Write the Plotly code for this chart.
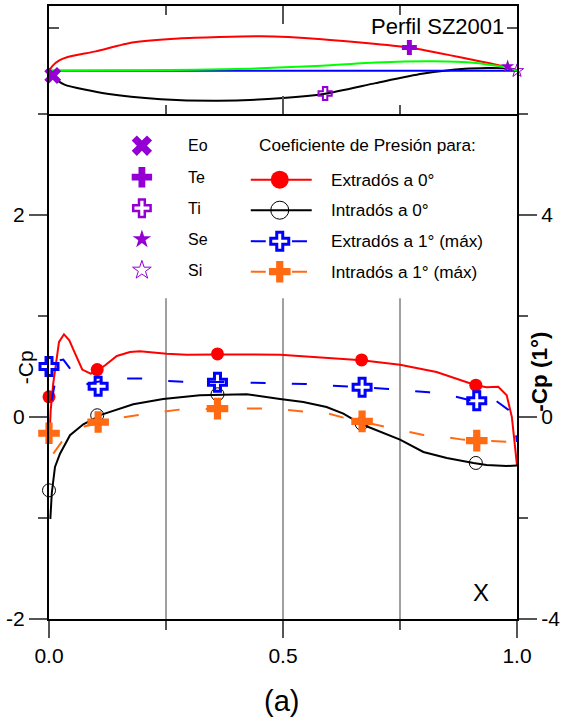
import plotly.graph_objects as go

# perfil (panel superior)
x_ext = [0, 0.008, 0.022, 0.04, 0.1, 0.178, 0.277, 0.453, 0.583, 0.77, 0.889, 0.98, 1.0]
y_ext = [0, 0.012, 0.024, 0.032, 0.045, 0.0655, 0.075, 0.08, 0.0733, 0.054, 0.029, 0.008, 0.0]
x_int = [0, 0.008, 0.033, 0.124, 0.239, 0.362, 0.5, 0.59, 0.698, 0.797, 0.889, 0.98, 1.0]
y_int = [0, -0.014, -0.032, -0.053, -0.0656, -0.0695, -0.063, -0.053, -0.0285, -0.007, 0.0046, 0.006, 0.0]
x_cam = [0, 0.2, 0.43, 0.583, 0.698, 0.82, 0.912, 0.98, 1.0]
y_cam = [0, 0.001, 0.005, 0.0116, 0.019, 0.022, 0.018, 0.007, 0.0]
x_cuerda = [0, 1]
y_cuerda = [0, 0]

# puntos del perfil
x_eo, y_eo = [0.008], [-0.011]
x_te, y_te = [0.77], [0.054]
x_ti, y_ti = [0.59], [-0.0525]
x_se, y_se = [0.98], [0.01]
x_si, y_si = [1.0], [0.0]

# Cp a 0 grados
x_red = [0.002, 0.0036, 0.009, 0.016, 0.0214, 0.032, 0.0434, 0.0556, 0.071, 0.089, 0.104, 0.12, 0.145, 0.173, 0.194,
         0.2515, 0.294, 0.36, 0.437, 0.494, 0.668, 0.75, 0.828, 0.878, 0.912, 0.935, 0.96, 0.978, 0.989, 1.0]
y_red = [-0.1, 0.066, 0.33, 0.561, 0.743, 0.819, 0.76, 0.63, 0.47, 0.43, 0.462, 0.512, 0.604, 0.643, 0.65,
         0.627, 0.617, 0.62, 0.617, 0.617, 0.561, 0.518, 0.446, 0.363, 0.314, 0.294, 0.30, 0.215, 0.0, -0.478]
x_blk = [0.001, 0.003, 0.006, 0.0128, 0.0235, 0.0449, 0.0733, 0.1126, 0.18, 0.244, 0.3226, 0.4224, 0.4936, 0.5434,
         0.593, 0.629, 0.668, 0.707, 0.75, 0.8, 0.85, 0.907, 0.935, 0.978, 1.0]
y_blk = [-1.0, -1.0, -0.75, -0.495, -0.363, -0.18, -0.072, 0.024, 0.126, 0.178, 0.215, 0.225, 0.178, 0.149,
         0.099, 0.033, -0.072, -0.148, -0.224, -0.346, -0.406, -0.455, -0.475, -0.485, -0.48]

# Cp a 1 grado, eje derecho
x_blu = [0.0057, 0.0113, 0.022, 0.0306, 0.0434, 0.066, 0.104, 0.166, 0.198, 0.2535, 0.2857, 0.36, 0.43, 0.4615,
         0.517, 0.549, 0.605, 0.636, 0.693, 0.725, 0.78, 0.812, 0.869, 0.90, 0.956, 0.981, 0.998, 1.0]
y_blu = [0.33, 0.594, 1.122, 1.136, 0.978, 0.62, 0.70, 0.76, 0.76, 0.712, 0.70, 0.694, 0.68, 0.68,
         0.668, 0.654, 0.62, 0.608, 0.574, 0.554, 0.514, 0.49, 0.404, 0.33, 0.316, 0.146, -0.36, -0.494]
x_ora = [0.0092, 0.027, 0.077, 0.159, 0.191, 0.246, 0.278, 0.36, 0.4224, 0.4545, 0.509, 0.541, 0.598, 0.629,
         0.686, 0.714, 0.769, 0.80, 0.854, 0.884, 0.944, 0.976, 1.0]
y_ora = [-0.726, -0.494, -0.184, -0.006, 0.04, 0.112, 0.146, 0.166, 0.172, 0.166, 0.138, 0.112, 0.066, -0.012,
         -0.124, -0.184, -0.284, -0.356, -0.408, -0.448, -0.476, -0.488, -0.5]

# marcadores medidos
x_pts = [0.0, 0.103, 0.36, 0.668, 0.912]
red_pts = [0.2, 0.47, 0.625, 0.565, 0.315]
blk_pts = [-0.726, 0.017, 0.225, -0.066, -0.455]
x_pts1 = [0.0, 0.105, 0.36, 0.669, 0.914]
blu_pts = [1.0, 0.608, 0.688, 0.588, 0.324]
ora_pts = [-0.322, -0.10, 0.166, -0.086, -0.468]

grid_x = [0.25, 0.5, 0.75]
x_ticks = [0, 0.5, 1]
x_labels = ['0.0', '0.5', '1.0']
y_ticks = [-2, 0, 2]
y_labels = ['-2', '0', '2']
y3_ticks = [-4, 0, 4]
y3_labels = ['-4', '0', '4']

legend_sym = ['Eo', 'Te', 'Ti', 'Se', 'Si']
legend_cp = ['Extradós a 0°', 'Intradós a 0°', 'Extradós a 1° (máx)', 'Intradós a 1° (máx)']

PURPLE = '#9400d3'
ORANGE = '#ff6a13'
FONT = 'Liberation Sans'
DASH = '15px,26.2px'


# posiciones de la leyenda en pixeles de la pagina -> ejes
def lx(px):
    return (px - 49) / 468.5


def ly(py):
    return (416.8 - py) / 101


fig = go.Figure()


def main_line(x, y, color, dash='solid', axis='y'):
    fig.add_trace(go.Scatter(x=x, y=y, mode='lines', xaxis='x', yaxis=axis, showlegend=False, hoverinfo='skip',
                             line=dict(color=color, width=2, dash=dash)))


def points(x, y, symbol, size, color, lw=0, xaxis='x', yaxis='y'):
    fig.add_trace(go.Scatter(x=x, y=y, mode='markers', xaxis=xaxis, yaxis=yaxis, showlegend=False, cliponaxis=False,
                             marker=dict(symbol=symbol, size=size, color=color, line=dict(width=lw, color=color))))


# panel superior
for x, y, color in [(x_ext, y_ext, '#ff0000'), (x_int, y_int, '#000000'), (x_cuerda, y_cuerda, '#0000ff'),
                    (x_cam, y_cam, '#00ff00')]:
    fig.add_trace(go.Scatter(x=x, y=y, mode='lines', xaxis='x2', yaxis='y2', showlegend=False,
                             line=dict(color=color, width=2, shape='spline', smoothing=0.6)))
points(x_eo, y_eo, 'x', 15, PURPLE, xaxis='x2', yaxis='y2')
points(x_te, y_te, 'cross', 12.5, PURPLE, xaxis='x2', yaxis='y2')
points(x_ti, y_ti, 'cross-open', 11, PURPLE, 2, xaxis='x2', yaxis='y2')
points(x_se, y_se, 'star', 10, PURPLE, xaxis='x2', yaxis='y2')
points(x_si, y_si, 'star-open', 10, PURPLE, 1, xaxis='x2', yaxis='y2')

# curvas de Cp
main_line(x_blu, y_blu, '#0000ff', DASH, 'y3')
main_line(x_ora, y_ora, ORANGE, DASH, 'y3')
main_line(x_red, y_red, '#ff0000')
main_line(x_blk, y_blk, '#000000')
points(x_pts, red_pts, 'circle', 13, '#ff0000')
points(x_pts, blk_pts, 'circle-open', 13, '#000000', 1)
points(x_pts1, blu_pts, 'cross-open', 15, '#0000ff', 3, yaxis='y3')
points(x_pts1, ora_pts, 'cross', 18, ORANGE, yaxis='y3')

# leyenda
rows_sym = [145.5, 177, 208, 239, 270]
for row, (symbol, size, lw) in zip(rows_sym, [('x', 18, 0), ('cross', 17, 0), ('cross-open', 14.5, 2.5),
                                              ('star', 14, 0), ('star-open', 14, 1)]):
    points([lx(142)], [ly(row)], symbol, size, PURPLE, lw)

rows_cp = [179.5, 210, 241, 271.5]
main_line([lx(251), lx(312)], [ly(rows_cp[0])] * 2, '#ff0000')
main_line([lx(251), lx(312)], [ly(rows_cp[1])] * 2, '#000000')
main_line([lx(251), lx(308)], [ly(rows_cp[2])] * 2, '#0000ff', DASH)
main_line([lx(251), lx(308)], [ly(rows_cp[3])] * 2, ORANGE, DASH)
points([lx(280)], [ly(rows_cp[0])], 'circle', 18, '#ff0000')
points([lx(280)], [ly(rows_cp[1])], 'circle-open', 18, '#000000', 1)
points([lx(280)], [ly(rows_cp[2])], 'cross-open', 15, '#0000ff', 3)
points([lx(280)], [ly(rows_cp[3])], 'cross', 18, ORANGE)

annotations = []


def label(text, x, y, size, anchor='left', yref='y', angle=0, bold=False):
    annotations.append(dict(text='<b>%s</b>' % text if bold else text, x=x, y=y, xref='paper', yref=yref,
                            showarrow=False, xanchor=anchor, yanchor='middle', textangle=angle, align=anchor,
                            font=dict(family=FONT, size=size, color='#000000')))


for row, text in zip(rows_sym, legend_sym):
    label(text, lx(186), ly(row), 16)
label('Coeficiente de Presión para:', lx(257), ly(145), 17.2)
for row, text in zip(rows_cp, legend_cp):
    label(text, lx(329), ly(row), 17.2)

label('Perfil SZ2001', lx(506), 1 - 20 / 613, 22, 'right', yref='paper')
label('X', lx(481), ly(592), 24, 'center')
label('(a)', lx(282), -82 / 613, 29, 'center', yref='paper')
label('-Cp', lx(25), ly(367), 21, 'center', angle=-90)
label('-Cp (1°)', lx(540), ly(371), 22.5, 'center', angle=-90, bold=True)

# lineas guia verticales, cortadas por la leyenda
shapes = [dict(type='line', xref='x', yref='y', x0=g, x1=g, y0=-2, y1=1.175, layer='below',
               line=dict(color='#808080', width=1.5)) for g in grid_x]

axis_font = dict(family=FONT, size=21, color='#000000')
line_style = dict(showline=True, linecolor='#000000', linewidth=2, tickcolor='#555555', tickwidth=1.5, showgrid=False,
                  zeroline=False)
DOM = 505 / 613

fig.update_layout(
    width=561, height=722, autosize=False, margin=dict(l=49, r=43.5, t=6, b=103, autoexpand=False),
    paper_bgcolor='white', plot_bgcolor='white', showlegend=False, shapes=shapes, annotations=annotations,
    xaxis=dict(domain=[0, 1], range=[0, 1], anchor='y', tickmode='array', tickvals=x_ticks, ticktext=x_labels,
               ticks='outside', ticklen=17, tickfont=axis_font,
               minor=dict(tickmode='array', tickvals=grid_x[::2], ticks='outside', ticklen=9, tickcolor='#555555',
                          tickwidth=1.5), **line_style),
    yaxis=dict(domain=[0, DOM], range=[-2, 3], anchor='x', tickmode='array', tickvals=y_ticks, ticktext=y_labels,
               ticks='outside', ticklen=18, tickfont=axis_font,
               minor=dict(tickmode='array', tickvals=[-1, 1, 3], ticks='outside', ticklen=9, tickcolor='#555555',
                          tickwidth=1.5), **line_style),
    yaxis3=dict(domain=[0, DOM], range=[-4, 6], anchor='x', overlaying='y', side='right', tickmode='array',
                tickvals=y3_ticks, ticktext=y3_labels, ticks='outside', ticklen=18, tickfont=axis_font,
                minor=dict(tickmode='array', tickvals=[-2, 2, 6], ticks='outside', ticklen=9, tickcolor='#555555',
                           tickwidth=1.5), **line_style),
    xaxis2=dict(domain=[0, 1], range=[0, 1], anchor='y2', tickmode='array', tickvals=[0.5], ticks='inside', ticklen=18,
                showticklabels=False, mirror='ticks',
                minor=dict(tickmode='array', tickvals=grid_x[::2], ticks='inside', ticklen=9, tickcolor='#555555',
                           tickwidth=1.5), **line_style),
    yaxis2=dict(domain=[DOM, 1], range=[-0.1, 0.15], anchor='x2', tickmode='array', tickvals=[0.1], ticks='inside',
                ticklen=10, showticklabels=False, mirror='ticks', **line_style),
)

fig.write_html("out.html", config=dict(displayModeBar=False), post_script="document.body.style.margin='0';")
